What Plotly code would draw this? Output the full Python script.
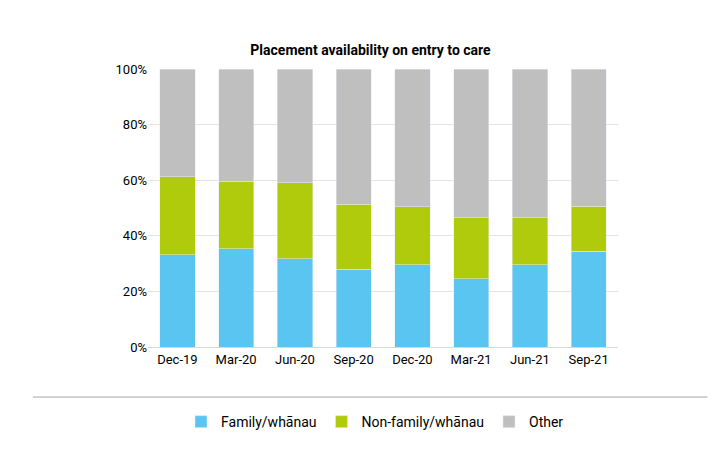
import plotly.graph_objects as go

quarters = ["Dec-19","Mar-20","Jun-20","Sep-20","Dec-20","Mar-21","Jun-21","Sep-21"]
family = [33.1, 35.3, 31.7, 28.0, 29.5, 24.5, 29.5, 34.5]
nonfamily = [28.1, 24.4, 27.3, 23.4, 20.9, 22.0, 17.0, 16.2]
other = [round(100 - f - n, 1) for f, n in zip(family, nonfamily)]
ytick_vals = [0, 20, 40, 60, 80, 100]
ytick_text = ["0%", "20%", "40%", "60%", "80%", "100%"]

fig = go.Figure()
fig.add_bar(x=quarters, y=family, name="Family/whānau", marker_color="#5BC5F2")
fig.add_bar(x=quarters, y=nonfamily, name="Non-family/whānau", marker_color="#B0CB0B")
fig.add_bar(x=quarters, y=other, name="Other", marker_color="#BFBFBF")

fig.update_layout(
    barmode="stack", bargap=0.4,
    width=725, height=465,
    margin=dict(l=140, r=115, t=61, b=126, autoexpand=False),
    paper_bgcolor="white", plot_bgcolor="white",
    font=dict(family="Roboto", size=13, color="#000"),
    title=dict(text="<b>Placement availability on entry to care</b>", x=0.5, xanchor="center",
               y=1 - 42/465, yanchor="middle", font=dict(size=14)),
    legend=dict(orientation="h", x=0.483, xanchor="center", y=-0.27, yanchor="middle",
                font=dict(size=14), traceorder="normal"),
    yaxis=dict(range=[0, 100], tickvals=ytick_vals, ticktext=ytick_text, automargin=False,
               showgrid=True, gridcolor="#E3E3E3", zeroline=False,
               showline=False, ticks="", tickfont=dict(size=13)),
    xaxis=dict(showline=True, linecolor="#D9D9D9", ticks="", automargin=False, tickfont=dict(size=13)),
    shapes=[dict(type="line", xref="paper", yref="paper", x0=-0.245, x1=1.19,
                 y0=-0.18, y1=-0.18, line=dict(color="#A6A6A6", width=1))],
)
fig.write_html("out.html")
